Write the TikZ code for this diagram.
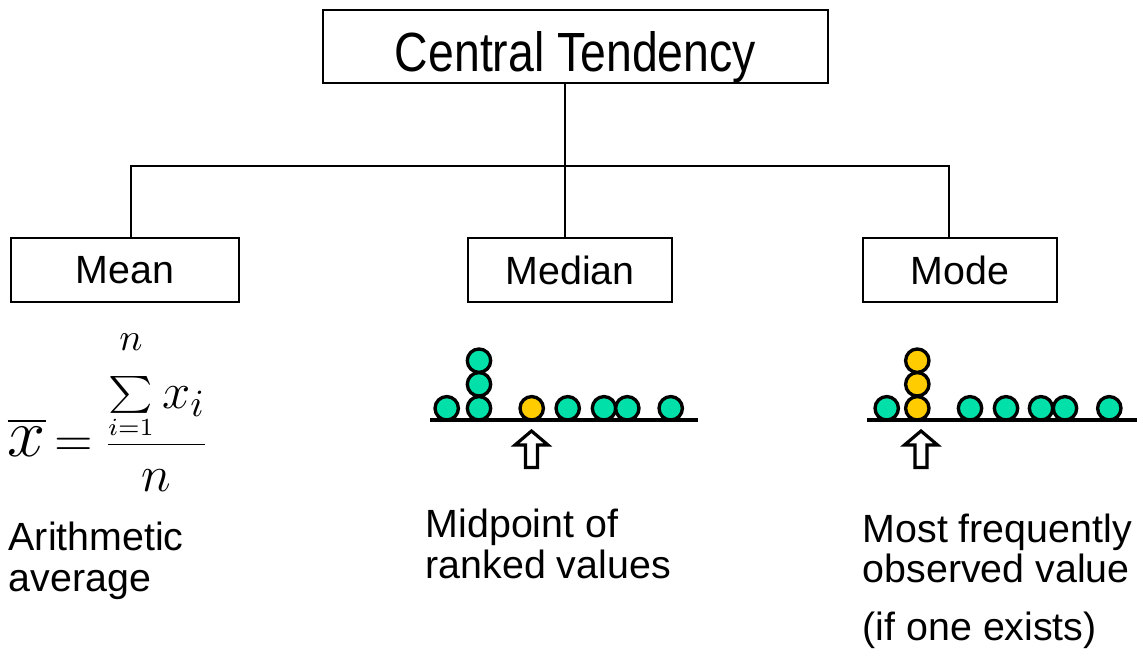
\documentclass[tikz,border=0pt]{standalone}
\usepackage[no-math]{fontspec}
\setmainfont{Liberation Sans}
\usepackage{graphicx}
\definecolor{dotgreen}{RGB}{0,224,168}
\definecolor{dotyellow}{RGB}{255,204,0}
\begin{document}
\begin{tikzpicture}[
  box/.style={draw, line width=0.6pt, inner sep=0pt, minimum height=0.64cm, font=\fontsize{11.2}{13}\selectfont},
  link/.style={line width=0.8pt},
  dot/.style={draw, circle, line width=0.95pt, inner sep=0pt, minimum size=0.234cm, fill=#1},
  ground/.style={line width=1.15pt},
  pointer/.style={draw, fill=white, line width=0.9pt, miter limit=10},
  caption/.style={align=left, anchor=north west, inner sep=0pt, font=\fontsize{11.2}{11.5}\selectfont},
]
\useasboundingbox (0,0) rectangle (11.43,6.62);
% Boxes
\node[box, minimum width=5.05cm, minimum height=0.73cm, text height=0.55cm, text depth=0.04cm,
  font=\fontsize{13.2}{15}\selectfont] (top) at (5.755,6.155) {\scalebox{1}[1.19]{Central Tendency}};
\node[box, minimum width=2.28cm] (mean) at (1.25,3.92) {Mean};
\node[box, minimum width=2.04cm] (median) at (5.70,3.92) {Median};
\node[box, minimum width=1.94cm] (mode) at (9.60,3.92) {Mode};
% Connectors
\coordinate (jmean) at (1.31,4.96);
\coordinate (jmedian) at (5.65,4.96);
\coordinate (jmode) at (9.49,4.96);
\draw[link] (jmean |- mean.north) -- (jmean) -- (jmode) -- (jmode |- mode.north);
\draw[link] (top.south -| jmedian) -- (jmedian |- median.north);
% Mean formula
\node[anchor=base west, inner sep=0pt, font=\fontsize{15}{18}\selectfont] (meaneq) at (0.07,2.05)
  {$\displaystyle \scalebox{1.35}{$\overline{x}$}\mkern3mu{=}\mkern4mu\frac{\mathop{\scalebox{1.2}[1.05]{$\textstyle\sum$}}\limits_{\scriptscriptstyle i=1}^{n\rule[-0.22cm]{0pt}{0pt}} x_i}{n}$};
% Median dots
\draw[ground] (4.30,2.42) -- (6.98,2.42);
\foreach \dx [count=\i] in {4.467,4.79,5.677,6.04,6.273,6.707}
  \node[dot=dotgreen] (md\i) at (\dx,2.537) {};
\node[dot=dotgreen] (md7) at (4.79,2.777) {};
\node[dot=dotgreen] (md8) at (4.79,3.013) {};
\node[dot=dotyellow] (mdmid) at (5.317,2.537) {};
% Mode dots
\draw[ground] (8.67,2.42) -- (11.37,2.42);
\foreach \dx [count=\i] in {8.867,9.70,10.06,10.41,10.65,11.093}
  \node[dot=dotgreen] (mo\i) at (\dx,2.537) {};
\foreach \dy [count=\i] in {2.537,2.777,3.013}
  \node[dot=dotyellow] (mostack\i) at (9.173,\dy) {};
% Arrows
\foreach \ax in {5.315,9.21}
  \draw[pointer] (\ax,2.31) -- ++(0.165,-0.14) -- ++(-0.105,0) -- ++(0,-0.225)
    -- ++(-0.12,0) -- ++(0,0.225) -- ++(-0.105,0) -- cycle;
% Captions
\node[caption] (meantxt) at (0.08,1.403) {Arithmetic\\average};
\node[caption] (mediantxt) at (4.25,1.536) {Midpoint of\\ranked values};
\node[caption] (modetxt) at (8.62,1.49) {Most frequently\\observed value\\[0.175cm](if one exists)};
\end{tikzpicture}
\end{document}
